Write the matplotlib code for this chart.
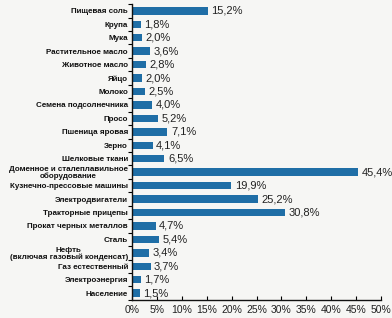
import matplotlib
matplotlib.use("Agg")
import matplotlib.pyplot as plt
import numpy as np

categories = [
    "Пищевая соль", "Крупа", "Мука", "Растительное масло", "Животное масло",
    "Яйцо", "Молоко", "Семена подсолнечника", "Просо", "Пшеница яровая",
    "Зерно", "Шелковые ткани", "Доменное и сталеплавильное\nоборудование",
    "Кузнечно-прессовые машины", "Электродвигатели", "Тракторные прицепы",
    "Прокат черных металлов", "Сталь", "Нефть\n(включая газовый конденсат)",
    "Газ естественный", "Электроэнергия", "Население",
]
values = [15.2, 1.8, 2.0, 3.6, 2.8, 2.0, 2.5, 4.0, 5.2, 7.1, 4.1, 6.5, 45.4,
          19.9, 25.2, 30.8, 4.7, 5.4, 3.4, 3.7, 1.7, 1.5]
xticks = [0, 5, 10, 15, 20, 25, 30, 35, 40, 45, 50]

plt.rcParams["font.family"] = ["Liberation Sans", "DejaVu Sans"]

fig = plt.figure(figsize=(3.92, 3.18), dpi=100)
fig.patch.set_facecolor("#f6f6f4")
ax = fig.add_axes([0.337, 0.057, 0.635, 0.930])
ax.set_facecolor("#f6f6f4")

y = np.arange(len(categories))
ax.barh(y, values, height=0.55, color="#1f6ea6")
for yi, v in zip(y, values):
    ax.annotate(f"{v:.1f}%".replace(".", ","), (v, yi), xytext=(2.5, 0),
                textcoords="offset points", va="center", ha="left",
                fontsize=8, color="#222222")

ax.set_ylim(len(categories) - 0.5, -0.5)
ax.set_xlim(0, 50)
ax.set_yticks(y)
ax.set_yticklabels(categories, fontsize=5.8, fontweight="bold",
                   linespacing=0.95, color="#111111")
for lbl in ax.get_yticklabels():
    if "\n" in lbl.get_text():
        lbl.set_multialignment("center")
ax.tick_params(axis="y", length=0, pad=3)
ax.set_yticks(np.arange(len(categories) + 1) - 0.5, minor=True)
ax.tick_params(axis="y", which="minor", length=3, direction="out", width=0.8)

ax.set_xticks(xticks)
ax.set_xticklabels([f"{t}%" for t in xticks], fontsize=7.5, color="#222222")
ax.tick_params(axis="x", length=3, direction="in", width=0.8, pad=4)

for s in ["top", "right"]:
    ax.spines[s].set_visible(False)
for s in ["left", "bottom"]:
    ax.spines[s].set_linewidth(1.0)
    ax.spines[s].set_color("#111111")

fig.savefig("out.png", dpi=100, facecolor=fig.get_facecolor())
